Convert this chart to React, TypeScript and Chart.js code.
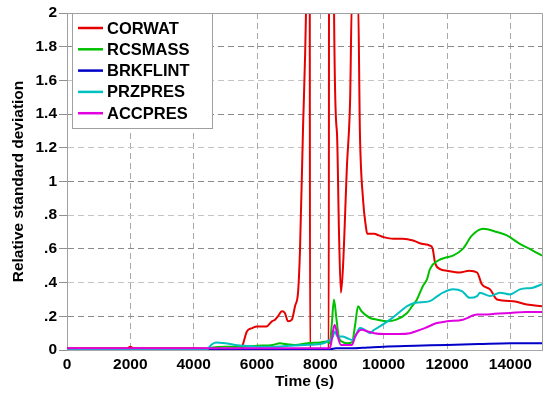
import React, { useEffect, useRef } from "react";
import { Chart, registerables } from "chart.js";

Chart.register(...registerables);

// ---- Data ----
const seriesNames = ["CORWAT", "RCSMASS", "BRKFLINT", "PRZPRES", "ACCPRES"];
const seriesColors = ["#e60000", "#00c000", "#0000c8", "#00c0c0", "#e000e0"];

const xTicks = [0, 2000, 4000, 6000, 8000, 10000, 12000, 14000];
const yTicks = [0, 0.2, 0.4, 0.6, 0.8, 1, 1.2, 1.4, 1.6, 1.8, 2];

const corwatTime = [0, 1900, 2000, 2100, 4000, 5450, 5550, 5680, 5850, 6000, 6300, 6470, 6570, 6660, 6790, 6880, 6980, 7100, 7200, 7300, 7357, 7450, 7547, 7600, 7660, 7675, 8265, 8280, 8420, 8430, 8525, 8590, 8650, 8715, 8840, 8940, 9000, 9190, 9250, 9350, 9440, 9480, 9700, 9850, 10000, 10300, 10600, 10930, 11200, 11460, 11550, 11620, 11780, 12000, 12400, 12700, 12950, 13100, 13360, 13580, 14090, 14520, 15000];
const corwatValue = [0.01, 0.01, 0.02, 0.01, 0.01, 0.0, 0.03, 0.11, 0.13, 0.14, 0.14, 0.17, 0.18, 0.2, 0.23, 0.22, 0.17, 0.18, 0.26, 0.35, 0.59, 1.29, 2.0, 2.8, 3.5, -0.01, -0.01, 3.5, 3.5, 2.1, 1.29, 0.69, 0.34, 0.49, 1.09, 1.48, 2.1, 2.1, 1.29, 0.89, 0.73, 0.69, 0.69, 0.68, 0.67, 0.66, 0.66, 0.65, 0.63, 0.62, 0.6, 0.52, 0.48, 0.47, 0.46, 0.47, 0.46, 0.39, 0.36, 0.3, 0.29, 0.27, 0.26];

const rcsmassTime = [0, 4400, 4600, 5000, 5500, 6000, 6500, 6725, 6900, 7200, 7600, 8000, 8210, 8300, 8360, 8430, 8500, 8580, 8680, 8850, 9000, 9100, 9190, 9300, 9570, 9800, 10100, 10400, 10740, 10900, 11050, 11240, 11370, 11460, 11710, 12000, 12190, 12500, 12790, 13140, 13580, 13890, 14300, 14710, 15000];
const rcsmassValue = [0.0, 0.005, 0.015, 0.02, 0.02, 0.025, 0.03, 0.04, 0.035, 0.03, 0.04, 0.045, 0.05, 0.04, 0.15, 0.3, 0.2, 0.08, 0.05, 0.04, 0.045, 0.15, 0.26, 0.23, 0.19, 0.18, 0.17, 0.18, 0.22, 0.26, 0.3, 0.38, 0.42, 0.48, 0.53, 0.55, 0.56, 0.6, 0.68, 0.72, 0.7, 0.68, 0.63, 0.59, 0.56];

const brkflintTime = [0, 4500, 8000, 8300, 8500, 9000, 9500, 10000, 11000, 12000, 13000, 14000, 15000];
const brkflintValue = [0.0, 0.003, 0.005, 0.005, 0.01, 0.01, 0.015, 0.02, 0.025, 0.03, 0.035, 0.04, 0.04];

const przpresTime = [0, 4400, 4550, 4700, 5000, 5300, 5600, 6000, 6500, 7000, 7500, 8000, 8300, 8400, 8450, 8550, 8700, 8850, 9000, 9100, 9250, 9400, 9570, 9700, 9880, 10200, 10600, 10740, 11000, 11460, 11700, 11870, 12190, 12470, 12720, 12950, 13040, 13360, 13670, 13990, 14300, 14710, 15000];
const przpresValue = [0.0, 0.0, 0.03, 0.045, 0.04, 0.03, 0.025, 0.02, 0.02, 0.025, 0.03, 0.035, 0.06, 0.08, 0.11, 0.08, 0.08, 0.07, 0.06, 0.08, 0.13, 0.12, 0.1, 0.12, 0.14, 0.18, 0.24, 0.26, 0.28, 0.29, 0.32, 0.34, 0.36, 0.35, 0.31, 0.32, 0.34, 0.32, 0.34, 0.33, 0.36, 0.37, 0.39];

const accpresTime = [0, 8300, 8350, 8450, 8550, 8650, 9000, 9100, 9200, 9300, 9500, 9700, 10000, 10500, 10830, 11000, 11300, 11680, 12000, 12500, 12950, 13200, 13500, 14000, 14500, 15000];
const accpresValue = [0.01, 0.01, 0.05, 0.15, 0.08, 0.03, 0.03, 0.08, 0.11, 0.12, 0.11, 0.1, 0.095, 0.095, 0.1, 0.11, 0.13, 0.16, 0.17, 0.18, 0.21, 0.21, 0.215, 0.22, 0.225, 0.225];

const seriesTimes = [corwatTime, rcsmassTime, brkflintTime, przpresTime, accpresTime];
const seriesValues = [corwatValue, rcsmassValue, brkflintValue, przpresValue, accpresValue];

const FONT = "'Liberation Sans', Arial, sans-serif";

const frameAndLegend = {
  id: "frameAndLegend",
  afterDatasetsDraw(chart: any) {
    const { ctx, chartArea } = chart;
    const { left, right, top, bottom } = chartArea;
    ctx.save();
    ctx.strokeStyle = "#a0a0a0";
    ctx.lineWidth = 1;
    ctx.setLineDash([]);
    ctx.beginPath();
    ctx.moveTo(left, Math.round(top) + 0.5);
    ctx.lineTo(Math.round(right) + 0.5, Math.round(top) + 0.5);
    ctx.lineTo(Math.round(right) + 0.5, bottom);
    ctx.stroke();

    // legend box
    const bx = left + 5.5;
    const by = top + 0.5;
    const bw = 140;
    const bh = 115;
    ctx.fillStyle = "#ffffff";
    ctx.fillRect(bx, by, bw, bh);
    ctx.strokeStyle = "#a0a0a0";
    ctx.strokeRect(bx, by, bw, bh);
    ctx.font = `bold 16.5px ${FONT}`;
    ctx.textBaseline = "middle";
    ctx.textAlign = "left";
    seriesNames.forEach((name, i) => {
      const y = top + 15 + i * 21.3;
      ctx.strokeStyle = seriesColors[i];
      ctx.lineWidth = 2.5;
      ctx.beginPath();
      ctx.moveTo(left + 11, y);
      ctx.lineTo(left + 36, y);
      ctx.stroke();
      ctx.fillStyle = "#000";
      ctx.fillText(name, left + 40, y + 1);
    });
    ctx.restore();
  },
};

export default function App() {
  const ref = useRef<HTMLCanvasElement | null>(null);

  useEffect(() => {
    document.body.style.margin = "0";
    const canvas = ref.current;
    if (!canvas) return;
    const datasets = seriesNames.map((name, i) => ({
      label: name,
      data: seriesTimes[i].map((t, j) => ({ x: t, y: seriesValues[i][j] })),
      borderColor: seriesColors[i],
      backgroundColor: seriesColors[i],
      borderWidth: 2,
      pointRadius: 0,
      cubicInterpolationMode: "monotone",
      fill: false,
      order: seriesNames.length - i,
    }));

    const chart = new Chart(canvas, {
      type: "line",
      data: { datasets },
      options: {
        animation: false,
        responsive: false,
        maintainAspectRatio: false,
        layout: { padding: { left: 0, right: 8, top: 13, bottom: 0 } },
        plugins: { legend: { display: false }, tooltip: { enabled: false } },
        scales: {
          x: {
            type: "linear",
            min: 0,
            max: 15000,
            afterBuildTicks: (scale: any) => {
              scale.ticks = xTicks.map((v) => ({ value: v }));
            },
            afterFit: (scale: any) => {
              scale.height = 48;
            },
            ticks: {
              color: "#000",
              font: { family: FONT, size: 15.5, weight: "bold" },
              padding: 5,
              maxRotation: 0,
              autoSkip: false,
              callback: (v: any) => String(v),
            },
            grid: {
              drawTicks: false,
              color: (c: any) => (c.tick && c.tick.value === 0 ? "rgba(0,0,0,0)" : "#a8a8a8"),
              lineWidth: 1,
            },
            border: { display: true, color: "#a8a8a8", dash: [6, 4] },
            title: {
              display: true,
              text: "Time (s)",
              color: "#000",
              font: { family: FONT, size: 15.5, weight: "bold" },
              padding: { top: 0, bottom: 7 },
            },
          },
          y: {
            type: "linear",
            min: 0,
            max: 2,
            afterBuildTicks: (scale: any) => {
              scale.ticks = yTicks.map((v) => ({ value: v }));
            },
            afterFit: (scale: any) => {
              scale.width = 67;
            },
            ticks: {
              color: "#000",
              font: { family: FONT, size: 15.5, weight: "bold" },
              padding: 2,
              autoSkip: false,
              callback: (v: any) => {
                const r = Math.round(Number(v) * 10) / 10;
                if (r === 0) return "0";
                let s = String(r);
                if (s.startsWith("0.")) s = s.slice(1);
                return s;
              },
            },
            grid: {
              drawTicks: true,
              tickLength: 8,
              tickColor: "#909090",
              tickBorderDash: [],
              color: (c: any) => {
                const v = c.tick ? Math.round(c.tick.value * 10) : 0;
                if (v === 0 || v === 20) return "rgba(0,0,0,0)";
                return (v / 2) % 2 === 1 ? "#8a8a8a" : "#c4c4c4";
              },
              lineWidth: 1,
            },
            border: { display: true, color: "#a0a0a0", dash: [6, 4] },
            title: {
              display: true,
              text: "Relative standard deviation",
              color: "#000",
              font: { family: FONT, size: 15.5, weight: "bold" },
              padding: { top: 9, bottom: 9 },
            },
          },
        },
      },
      plugins: [frameAndLegend],
    } as any);
    return () => chart.destroy();
  }, []);

  return (
    <div style={{ width: 550, height: 398, background: "#fff" }}>
      <canvas ref={ref} width={550} height={398} style={{ display: "block" }} />
    </div>
  );
}
